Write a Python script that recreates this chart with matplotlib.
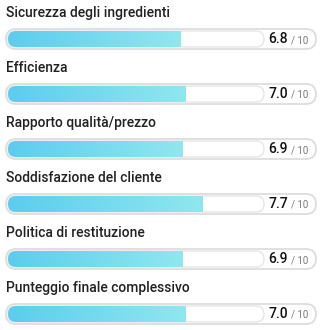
import numpy as np
import matplotlib
matplotlib.use("Agg")
import matplotlib.pyplot as plt
from matplotlib.patches import FancyBboxPatch
from matplotlib.colors import LinearSegmentedColormap

# ============================================================
# Data
# ============================================================
labels = [
    "Sicurezza degli ingredienti",
    "Efficienza",
    "Rapporto qualità/prezzo",
    "Soddisfazione del cliente",
    "Politica di restituzione",
    "Punteggio finale complessivo",
]
scores = [6.8, 7.0, 6.9, 7.7, 6.9, 7.0]
max_score = 10

# ============================================================
# Layout (x in score units, y in row units)
# ============================================================
W, H, DPI = 321, 330, 100
px_x = 25.3          # pixels per score unit
px_y = 55.0          # pixels per row
x0_px, y0_px = 8, 39  # track start / first row centre

plt.rcParams['font.family'] = ['Roboto', 'DejaVu Sans']
fig = plt.figure(figsize=(W / DPI, H / DPI), dpi=DPI)
ax = fig.add_axes([0, 0, 1, 1])
ax.set_xlim(-x0_px / px_x, (W - x0_px) / px_x)
ax.set_ylim((H - y0_px) / px_y, -y0_px / px_y)
ax.axis("off")

aspect = px_x / px_y
cmap = LinearSegmentedColormap.from_list("bar", ["#5ccdee", "#90e7ef"])
grad = np.linspace(0, 1, 256).reshape(1, -1)

outer_l, outer_r = -2 / px_x, 308 / px_x
outer_h = 20 / px_y
track_r = 256 / px_x
fill_h = 16 / px_y

for i, (lab, s) in enumerate(zip(labels, scores)):
    # title
    ax.text(-2 / px_x, i - 22 / px_y, lab, fontsize=10, fontweight="medium",
            color="#222222", ha="left", va="baseline")

    # outer pill
    r_out = (outer_h * px_y / 2) / px_x
    ax.add_patch(FancyBboxPatch((outer_l, i - outer_h / 2), outer_r - outer_l, outer_h,
                                boxstyle=f"round,pad=0,rounding_size={r_out}",
                                mutation_aspect=aspect, fc="white", ec="#dddddd", lw=1.3))
    # track
    r_in = (fill_h * px_y / 2) / px_x
    track = FancyBboxPatch((0, i - fill_h / 2), track_r, fill_h,
                           boxstyle=f"round,pad=0,rounding_size={r_in}",
                           mutation_aspect=aspect, fc="white", ec="#e6e6e6", lw=1.0)
    ax.add_patch(track)
    # filled part with gradient, rounded left end, square right end
    im = ax.imshow(grad, cmap=cmap, aspect="auto", interpolation="bilinear",
                   extent=(0, s, i + fill_h / 2, i - fill_h / 2), zorder=2)
    im.set_clip_path(track)

    # value text
    ax.text(280 / px_x, i + 4 / px_y, f"{s:.1f}", fontsize=10, fontweight="medium",
            color="#111111", ha="right", va="baseline")
    ax.text(283 / px_x, i + 4 / px_y, f"/ {max_score}", fontsize=7,
            color="#777777", ha="left", va="baseline")

fig.savefig("out.png", dpi=DPI)
